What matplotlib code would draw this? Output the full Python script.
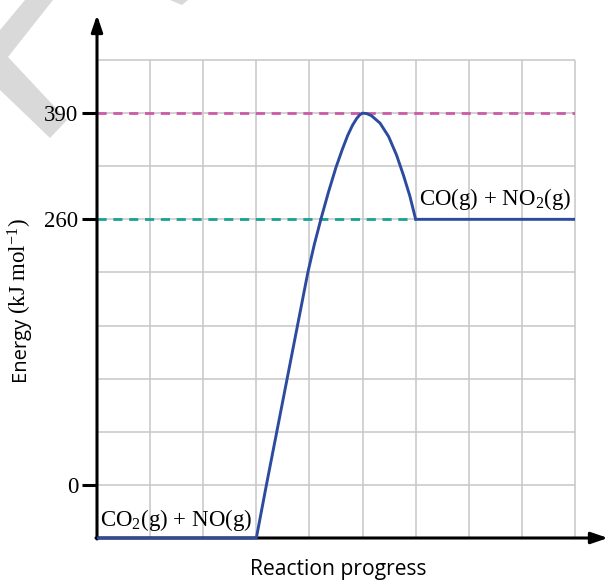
import numpy as np
import matplotlib
matplotlib.use("Agg")
import matplotlib.pyplot as plt
from matplotlib.patches import Polygon

plt.rcParams['mathtext.default'] = 'regular'

# energy ticks (schematic positions on the grid) and their labels
energy_levels = [1, 6, 8]
energy_labels = ['0', '260', '390']

# reaction path in grid units
path_x = [0, 3.0, 3.19, 3.385, 3.58, 3.775, 3.97, 4.09, 4.22, 4.36, 4.50, 4.62, 4.72, 4.81, 4.89, 4.95, 5.0,
          5.08, 5.17, 5.33, 5.49, 5.64, 5.77, 5.89, 6.0, 9]
path_y = [0, 0, 1, 2, 3, 4, 5, 5.52, 6.02, 6.52, 6.98, 7.32, 7.58, 7.77, 7.90, 7.97, 8.0,
          7.99, 7.95, 7.81, 7.56, 7.21, 6.83, 6.44, 6.0, 6.0]

reactants = 'CO$_2$(g) + NO(g)'
products = 'CO(g) + NO$_2$(g)'

W, H = 608, 580
fig = plt.figure(figsize=(W / 100, H / 100), dpi=100)

# faint watermark in the corner
wm = [(25, 0), (53, 0), (8, 57), (67, 120), (50, 138), (0, 90), (0, 30)]
fig.add_artist(Polygon([(x, H - y) for x, y in wm], closed=True, transform=None,
                       facecolor='#d9d9d9', edgecolor='none', zorder=0))
wm2 = [(170, 0), (188, 0), (182, 5)]
fig.add_artist(Polygon([(x, H - y) for x, y in wm2], closed=True, transform=None,
                       facecolor='#d9d9d9', edgecolor='none', zorder=0))

ax = fig.add_axes([97 / W, (H - 538) / H, 478 / W, 478 / H])
ax.set_xlim(0, 9)
ax.set_ylim(0, 9)
ax.patch.set_alpha(0)
for s in ax.spines.values():
    s.set_visible(False)

grid = np.arange(0, 10)
ax.vlines(grid, 0, 9, color='#c6c6c6', lw=1.1, zorder=1, clip_on=False)
ax.hlines(grid, 0, 9, color='#c6c6c6', lw=1.1, zorder=1, clip_on=False)

ax.hlines(energy_levels[2], 0, 9, color='#cb5ba6', lw=2.0, linestyles=(0, (3.3, 2.4)), zorder=2)
ax.hlines(energy_levels[1], 0, 6, color='#17a396', lw=2.0, linestyles=(0, (3.3, 2.4)), zorder=2)

ax.plot(path_x, path_y, color='#2c4b9f', lw=2.1, zorder=5, clip_on=False,
        solid_joinstyle='round', solid_capstyle='butt')

ax.set_xticks([])
ax.set_yticks(energy_levels)
ax.set_yticklabels(energy_labels, family='Liberation Serif', fontsize=16.5)
ax.tick_params(axis='y', length=10.5, width=2.2, pad=3, direction='out', color='black')

# axes with arrow heads
arrow = dict(arrowstyle='-|>,head_length=0.5,head_width=0.17', lw=2.2, color='black',
             mutation_scale=20, shrinkA=0, shrinkB=0)
ax.annotate('', xy=(97, H - 15), xytext=(97, H - 539), xycoords='figure pixels',
            textcoords='figure pixels', arrowprops=arrow, zorder=4)
ax.annotate('', xy=(608, H - 538), xytext=(96, H - 538), xycoords='figure pixels',
            textcoords='figure pixels', arrowprops=arrow, zorder=4)

ax.text(0.06, 0.23, reactants, family='Liberation Serif', fontsize=16.5, va='baseline', ha='left', zorder=6)
ax.text(6.06, 6.27, products, family='Liberation Serif', fontsize=16.5, va='baseline', ha='left', zorder=6)

fig.text(338 / W, 5 / H, 'Reaction progress', family='Open Sans', fontsize=15.2,
         ha='center', va='baseline')

t1 = fig.text(27 / W, (H - 383) / H, 'Energy ', family='Open Sans', fontsize=14.5,
              rotation=90, rotation_mode='anchor', ha='left', va='baseline')
fig.canvas.draw()
bb = t1.get_window_extent()
fig.text(27 / W, bb.y1 / H, '(kJ mol$^{-1}$)', family='Liberation Serif', fontsize=16.5,
         rotation=90, rotation_mode='anchor', ha='left', va='baseline')

fig.savefig('out.png', dpi=100)
